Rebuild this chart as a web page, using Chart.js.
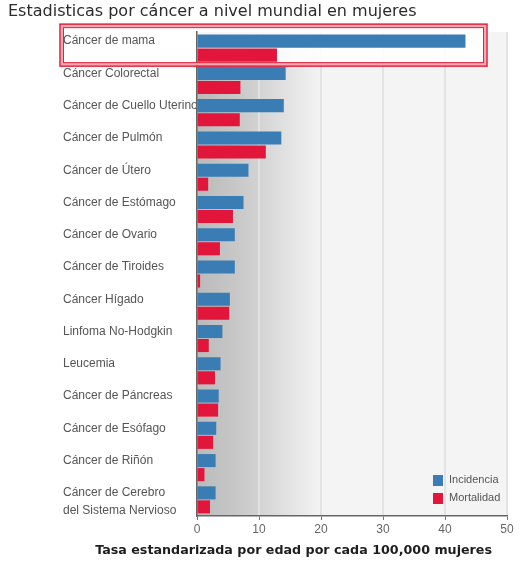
<!DOCTYPE html>
<html>
<head>
<meta charset="utf-8">
<script src="https://cdn.jsdelivr.net/npm/chart.js@4"></script>
<style>
  html, body { margin: 0; padding: 0; background: #fff; }
  #wrap { width: 520px; height: 564px; }
</style>
</head>
<body>
<div id="wrap"><canvas id="myChart"></canvas></div>
<script>
// Tipos de cáncer (la segunda línea vacía deja el texto a la altura de la barra azul)
var categories = [
    ['Cáncer de mama', ''],
    ['Cáncer Colorectal', ''],
    ['Cáncer de Cuello Uterino', ''],
    ['Cáncer de Pulmón', ''],
    ['Cáncer de Útero', ''],
    ['Cáncer de Estómago', ''],
    ['Cáncer de Ovario', ''],
    ['Cáncer de Tiroides', ''],
    ['Cáncer Hígado', ''],
    ['Linfoma No-Hodgkin', ''],
    ['Leucemia', ''],
    ['Cáncer de Páncreas', ''],
    ['Cáncer de Esófago', ''],
    ['Cáncer de Riñón', ''],
    ['Cáncer de Cerebro', 'del Sistema Nervioso']
];

// Tasa por cada 100,000 mujeres
var incidencia = [43.3, 14.3, 14.0, 13.6, 8.3, 7.5, 6.1, 6.1, 5.3, 4.1, 3.8, 3.5, 3.1, 3.0, 3.0];
var mortalidad = [12.9, 7.0, 6.9, 11.1, 1.8, 5.8, 3.7, 0.5, 5.2, 1.9, 2.9, 3.4, 2.6, 1.2, 2.1];

var xTicks = [0, 10, 20, 30, 40, 50];

var titulo = 'Estadisticas por cáncer a nivel mundial en mujeres';
var tituloEje = 'Tasa estandarizada por edad por cada 100,000 mujeres';

var azul = '#3a7cb4';
var rojo = '#e2153b';

document.addEventListener('DOMContentLoaded', function () {
    var ctx = document.getElementById('myChart').getContext('2d');

    // Fondo degradado, líneas de la cuadrícula y recuadro de la primera fila
    var fondo = {
        id: 'fondo',
        beforeDatasetsDraw: function (chart) {
            var c = chart.ctx, a = chart.chartArea, x = chart.scales.x, y = chart.scales.y;
            c.save();
            var g = c.createLinearGradient(a.left, 0, x.getPixelForValue(20), 0);
            g.addColorStop(0, '#bababa');
            g.addColorStop(0.35, '#c9c9c9');
            g.addColorStop(1, '#f4f4f4');
            c.fillStyle = g;
            c.fillRect(a.left, a.top, a.right - a.left, a.bottom - a.top);

            c.strokeStyle = '#e3e3e3';
            c.lineWidth = 2;
            xTicks.forEach(function (v) {
                if (v === 0) return;
                var px = x.getPixelForValue(v);
                c.beginPath();
                c.moveTo(px, a.top);
                c.lineTo(px, a.bottom);
                c.stroke();
            });

            // interior claro de la fila destacada
            var cy = y.getPixelForValue(0);
            c.fillStyle = 'rgba(255,255,255,0.85)';
            c.fillRect(a.left, cy - 22, 484 - a.left, 36);
            c.restore();
        },
        afterDraw: function (chart) {
            var c = chart.ctx, a = chart.chartArea, y = chart.scales.y;
            c.save();

            // recuadro rojo doble
            var cy = y.getPixelForValue(0);
            c.strokeStyle = '#f6a9b3';
            c.lineWidth = 3;
            c.strokeRect(62, cy - 22, 423, 38);
            c.strokeStyle = '#e4203a';
            c.lineWidth = 1.5;
            c.strokeRect(60, cy - 24, 427, 42);
            c.lineWidth = 1;
            c.strokeRect(63.5, cy - 20.5, 420, 35);

            // leyenda
            var lx = a.right - 74, ly = a.bottom - 36;
            c.font = '11px "Liberation Sans", Arial, sans-serif';
            c.textBaseline = 'middle';
            c.textAlign = 'left';
            chart.data.datasets.forEach(function (ds, i) {
                var yy = ly + i * 18;
                c.fillStyle = ds.backgroundColor;
                c.fillRect(lx, yy - 5, 10, 11);
                c.fillStyle = '#555';
                c.fillText(ds.label, lx + 16, yy);
            });

            // títulos
            c.fillStyle = '#2b2b2b';
            c.font = '16px "DejaVu Sans", sans-serif';
            c.fillText(titulo, 8, 12);
            c.fillStyle = '#1e1e1e';
            c.font = 'bold 12.7px "DejaVu Sans", sans-serif';
            c.textAlign = 'right';
            c.fillText(tituloEje, 492, 551);
            c.restore();
        }
    };

    new Chart(ctx, {
        type: 'bar',
        data: {
            labels: categories,
            datasets: [{
                label: 'Incidencia',
                data: incidencia,
                backgroundColor: azul,
                categoryPercentage: 0.87,
                barPercentage: 0.93
            }, {
                label: 'Mortalidad',
                data: mortalidad,
                backgroundColor: rojo,
                categoryPercentage: 0.87,
                barPercentage: 0.93
            }]
        },
        plugins: [fondo],
        options: {
            indexAxis: 'y',
            responsive: true,
            maintainAspectRatio: false,
            animation: false,
            layout: { padding: { left: 63, right: 13, top: 32, bottom: 26 } },
            plugins: {
                legend: { display: false },
                tooltip: { enabled: false }
            },
            scales: {
                x: {
                    type: 'linear',
                    min: 0,
                    max: 50,
                    afterBuildTicks: function (scale) {
                        scale.ticks = xTicks.map(function (v) { return { value: v }; });
                    },
                    afterFit: function (scale) { scale.height = 22; },
                    grid: { drawOnChartArea: false, tickLength: 4, tickColor: '#777' },
                    border: { color: '#666', width: 1.5, z: 1 },
                    ticks: {
                        padding: 2,
                        color: '#666',
                        font: { family: '"Liberation Sans", Arial, sans-serif', size: 12 }
                    }
                },
                y: {
                    afterFit: function (scale) { scale.width = 134; },
                    grid: { drawOnChartArea: false, drawTicks: false },
                    border: { color: '#666', width: 1.5, z: 1 },
                    ticks: {
                        crossAlign: 'far',
                        autoSkip: false,
                        labelOffset: 2,
                        color: '#555',
                        font: { family: '"Liberation Sans", Arial, sans-serif', size: 12, lineHeight: 1.5 }
                    }
                }
            }
        }
    });
});
</script>
</body>
</html>
